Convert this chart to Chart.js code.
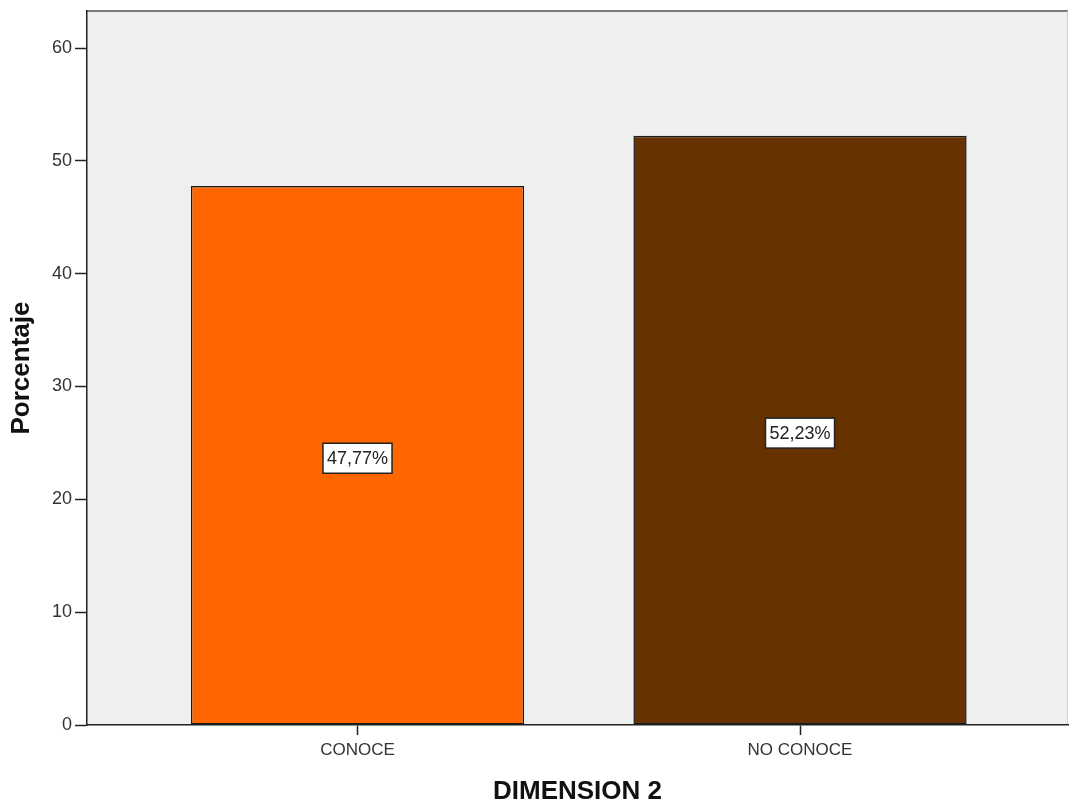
<!DOCTYPE html>
<html>
<head>
<meta charset="utf-8">
<title>DIMENSION 2</title>
<script src="https://cdn.jsdelivr.net/npm/chart.js@4.4.1/dist/chart.umd.min.js"></script>
<style>
  html, body { margin: 0; padding: 0; background: #fff; }
  #wrap { width: 1069px; height: 807px; }
</style>
</head>
<body>
<div id="wrap"><canvas id="chart" width="1069" height="807"></canvas></div>
<script>
const categories = ["CONOCE", "NO CONOCE"];
const percentages = [47.77, 52.23];
const barColors = ["#ff6600", "#663300"];
const yTicks = [0, 10, 20, 30, 40, 50, 60];

const FONT = "'Liberation Sans', Arial, sans-serif";

// grey plot panel with a darker top edge and a faint right edge
const panel = {
  id: "panel",
  beforeDraw(chart) {
    const { ctx, chartArea: a } = chart;
    ctx.save();
    ctx.fillStyle = "#efefef";
    ctx.fillRect(a.left, a.top, a.right - a.left, a.bottom - a.top);
    ctx.strokeStyle = "#7a7a7a";
    ctx.lineWidth = 2;
    ctx.beginPath();
    ctx.moveTo(a.left, a.top);
    ctx.lineTo(a.right, a.top);
    ctx.stroke();
    ctx.strokeStyle = "#d0d0d0";
    ctx.lineWidth = 1;
    ctx.beginPath();
    ctx.moveTo(a.right - 0.5, a.top);
    ctx.lineTo(a.right - 0.5, a.bottom);
    ctx.stroke();
    ctx.restore();
  }
};

// boxed value label in the middle of each bar
const valueBoxes = {
  id: "valueBoxes",
  afterDatasetsDraw(chart) {
    const { ctx } = chart;
    const meta = chart.getDatasetMeta(0);
    ctx.save();
    ctx.font = "18px " + FONT;
    ctx.textAlign = "center";
    ctx.textBaseline = "middle";
    meta.data.forEach((bar, i) => {
      const text = percentages[i].toFixed(2).replace(".", ",") + "%";
      const cx = bar.x;
      const cy = (bar.y + bar.base) / 2 + 3;
      const w = ctx.measureText(text).width + 8;
      const h = 30;
      ctx.fillStyle = "#ffffff";
      ctx.fillRect(cx - w / 2, cy - h / 2, w, h);
      ctx.strokeStyle = "#222";
      ctx.lineWidth = 1.5;
      ctx.strokeRect(cx - w / 2, cy - h / 2, w, h);
      ctx.fillStyle = "#222";
      ctx.fillText(text, cx, cy + 1);
    });
    ctx.restore();
  }
};

new Chart(document.getElementById("chart"), {
  type: "bar",
  data: {
    datasets: [{
      data: categories.map((c, i) => ({ x: i, y: percentages[i] })),
      backgroundColor: barColors,
      borderColor: "#1a1a1a",
      borderWidth: 1.5,
      borderSkipped: false,
      categoryPercentage: 1,
      barPercentage: 0.753
    }]
  },
  options: {
    responsive: false,
    animation: false,
    layout: { padding: { top: 11, right: 1, left: 0, bottom: 0 } },
    plugins: {
      legend: { display: false },
      tooltip: { enabled: false }
    },
    scales: {
      x: {
        type: "linear",
        min: -0.6113,
        max: 1.6056,
        offset: false,
        afterBuildTicks: s => { s.ticks = categories.map((c, i) => ({ value: i })); },
        afterFit: s => { s.height = 82; },
        grid: { drawOnChartArea: false, offset: false, tickLength: 10, color: "#222", tickWidth: 1.5 },
        border: { color: "#222", width: 1.5 },
        ticks: {
          color: "#333",
          padding: 5,
          font: { family: FONT, size: 17 },
          callback: v => categories[v]
        },
        title: {
          display: true,
          text: "DIMENSION 2",
          color: "#111",
          font: { family: FONT, size: 26, weight: "bold" },
          padding: { top: 0, bottom: 0 }
        }
      },
      y: {
        min: 0,
        max: 63.28,
        afterBuildTicks: s => { s.ticks = yTicks.map(v => ({ value: v })); },
        afterFit: s => { s.width = 87; s.paddingTop = 0; s.paddingBottom = 0; },
        grid: { drawOnChartArea: false, tickLength: 12, color: "#222", tickWidth: 1.5 },
        border: { color: "#222", width: 1.5 },
        ticks: {
          color: "#333",
          padding: 3,
          font: { family: FONT, size: 18 }
        },
        title: {
          display: true,
          text: "Porcentaje",
          color: "#111",
          font: { family: FONT, size: 26, weight: "bold" },
          padding: { top: 6, bottom: 0 }
        }
      }
    }
  },
  plugins: [panel, valueBoxes]
});
</script>
</body>
</html>
